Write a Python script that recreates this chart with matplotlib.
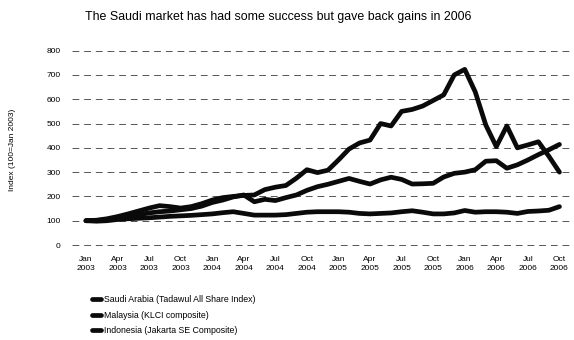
import numpy as np
import matplotlib.pyplot as plt

plt.rcParams['font.family'] = ['Liberation Sans', 'DejaVu Sans']

# monthly index values, Jan 2003 .. Oct 2006 (100 = Jan 2003)
saudi = [100, 102, 108, 117, 128, 140, 152, 162, 158, 152, 158, 170,
         185, 195, 200, 204, 206, 228, 238, 245, 275, 310, 298, 308,
         350, 395, 420, 432, 500, 490, 550, 558, 572, 595, 618, 700,
         723, 630, 494, 405, 490, 400, 412, 425, 365, 300]
malaysia = [100, 98, 100, 105, 108, 110, 112, 115, 118, 120, 122, 125,
            128, 133, 137, 130, 123, 123, 123, 125, 130, 135, 137, 137,
            137, 135, 130, 128, 130, 132, 137, 141, 135, 128, 128, 132,
            142, 135, 137, 137, 135, 130, 138, 140, 143, 158]
indonesia = [100, 101, 104, 110, 118, 125, 132, 137, 140, 145, 150, 160,
             175, 185, 198, 206, 178, 188, 183, 195, 206, 225, 240, 250,
             262, 274, 262, 251, 268, 279, 270, 251, 252, 254, 280, 295,
             300, 310, 345, 347, 316, 330, 350, 372, 392, 414]

tick_labels = ['Jan\n2003', 'Apr\n2003', 'Jul\n2003', 'Oct\n2003',
               'Jan\n2004', 'Apr\n2004', 'Jul\n2004', 'Oct\n2004',
               'Jan\n2005', 'Apr\n2005', 'Jul\n2005', 'Oct\n2005',
               'Jan\n2006', 'Apr\n2006', 'Jul\n2006', 'Oct\n2006']
series_names = ['Saudi Arabia (Tadawul All Share Index)',
                'Malaysia (KLCI composite)',
                'Indonesia (Jakarta SE Composite)']

x = np.arange(len(saudi))

fig = plt.figure(figsize=(5.74, 3.40), dpi=100)
ax = fig.add_axes([0.1254, 0.2794, 0.8694, 0.5716])

lines = []
for vals in (saudi, malaysia, indonesia):
    ln, = ax.plot(x, vals, color='#0a0a0a', lw=3.4, solid_joinstyle='round',
                  solid_capstyle='round', zorder=3)
    lines.append(ln)

ax.set_xlim(-1.33, 46.1)
ax.set_ylim(0, 800)
ax.set_yticks(range(0, 801, 100))
ax.set_xticks(x[::3])
ax.set_xticklabels(tick_labels, fontsize=6, linespacing=1.3)
ax.tick_params(axis='y', labelsize=6, length=0, pad=8)
ax.tick_params(axis='x', length=0, pad=8)
ax.grid(axis='y', color='#555555', lw=0.7, linestyle=(0, (7, 5)))
for gl in ax.get_ygridlines():
    gl.set_clip_on(False)
ax.set_axisbelow(True)
for s in ax.spines.values():
    s.set_visible(False)

fig.text(0.022, 0.56, 'Index (100=Jan 2003)', rotation=90, fontsize=6,
         ha='center', va='center')
fig.text(0.485, 0.95, 'The Saudi market has had some success but gave back gains in 2006',
         fontsize=8.9, ha='center', va='center')

fig.legend(lines, series_names, loc='upper left', bbox_to_anchor=(0.153, 0.145),
           frameon=False, fontsize=6.3, handlelength=1.0, handletextpad=0.35,
           labelspacing=0.75, borderpad=0)

fig.savefig('out.png', dpi=100)
